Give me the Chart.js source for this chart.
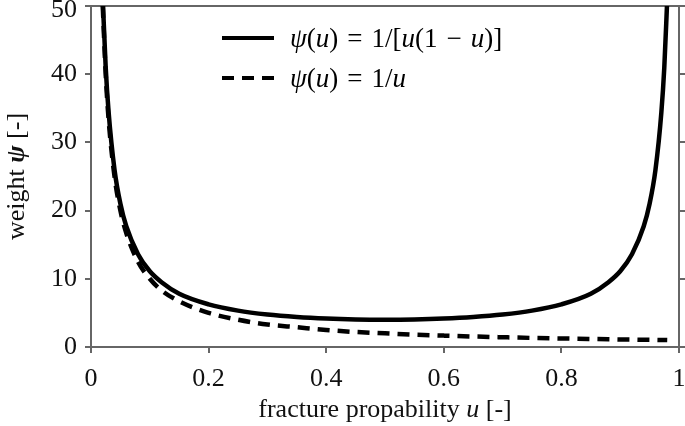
<!DOCTYPE html>
<html lang="en">
<head>
    <meta charset="UTF-8">
    <title>Weight function</title>
    <script src="https://cdn.jsdelivr.net/npm/chart.js"></script>
    <style>
        body {
            margin: 0;
            background: white;
            font-family: "Liberation Serif", serif;
        }
        .wrap {
            position: relative;
            width: 685px;
            height: 426px;
        }
        .legend {
            position: absolute;
            left: 222px;
            top: 18px;
            font-size: 27px;
            color: #000;
            line-height: 40px;
        }
        .legend .row {
            display: flex;
            align-items: center;
        }
        .legend .sample {
            width: 52px;
            height: 0;
            margin-right: 16px;
        }
        .legend .solid { border-top: 4px solid #000; }
        .legend .dash {
            height: 4px;
            background: repeating-linear-gradient(90deg, #000 0 12px, transparent 12px 20px);
        }
        .legend .op { padding: 0 9px; }
    </style>
</head>
<body>
    <div class="wrap">
        <canvas id="chart" width="685" height="426"></canvas>
        <div class="legend">
            <div class="row"><span class="sample solid"></span><span><i>ψ</i>(<i>u</i>)<span class="op">=</span>1/[<i>u</i>(1<span class="op">−</span><i>u</i>)]</span></div>
            <div class="row"><span class="sample dash"></span><span><i>ψ</i>(<i>u</i>)<span class="op">=</span>1/<i>u</i></span></div>
        </div>
    </div>
    <script>
        // values
        const uValues = [0.02, 0.025, 0.03, 0.04, 0.05, 0.06, 0.08, 0.1, 0.12, 0.15, 0.2, 0.25, 0.3, 0.35, 0.4, 0.45, 0.5,
                         0.55, 0.6, 0.65, 0.7, 0.75, 0.8, 0.85, 0.88, 0.9, 0.92, 0.94, 0.95, 0.96, 0.97, 0.975, 0.98];
        const psiBoth = [51, 41, 34.4, 26, 21, 17.7, 13.6, 11.1, 9.5, 7.8, 6.25, 5.33, 4.76, 4.4, 4.17, 4.04, 4.0,
                         4.04, 4.17, 4.4, 4.76, 5.33, 6.25, 7.8, 9.5, 11.1, 13.6, 17.7, 21, 26, 34.4, 41, 51];
        const psiLeft = [50, 40, 33.3, 25, 20, 16.7, 12.5, 10, 8.3, 6.7, 5, 4, 3.3, 2.9, 2.5, 2.2, 2,
                         1.8, 1.67, 1.54, 1.43, 1.33, 1.25, 1.18, 1.14, 1.11, 1.09, 1.06, 1.05, 1.04, 1.03, 1.03, 1.02];
        const xTicks = [0, 0.2, 0.4, 0.6, 0.8, 1];
        const yTicks = [0, 10, 20, 30, 40, 50];

        // axis titles as runs: [text, css font style]
        const xTitle = [['fracture propability ', ''], ['u', 'italic '], [' [-]', '']];
        const yTitle = [['weight ', ''], ['ψ', 'italic bold '], [' [-]', '']];

        const axisColor = '#666';
        const tickFont = { family: 'Liberation Serif', size: 26 };

        function pts(ys) {
            return uValues.map((u, i) => ({ x: u, y: ys[i] }));
        }

        function drawRuns(ctx, runs, cx, cy, angle) {
            ctx.save();
            ctx.translate(cx, cy);
            ctx.rotate(angle);
            ctx.fillStyle = '#111';
            ctx.textBaseline = 'middle';
            let total = 0;
            runs.forEach(r => { ctx.font = r[1] + '26px "Liberation Serif"'; total += ctx.measureText(r[0]).width; });
            let x = -total / 2;
            runs.forEach(r => {
                ctx.font = r[1] + '26px "Liberation Serif"';
                ctx.fillText(r[0], x, 0);
                x += ctx.measureText(r[0]).width;
            });
            ctx.restore();
        }

        const titlePlugin = {
            id: 'titles',
            afterDraw(chart) {
                const a = chart.chartArea;
                drawRuns(chart.ctx, xTitle, (a.left + a.right) / 2, 410, 0);
                drawRuns(chart.ctx, yTitle, 17, (a.top + a.bottom) / 2, -Math.PI / 2);
            }
        };

        const topY = yTicks[yTicks.length - 1];

        new Chart(document.getElementById('chart'), {
            type: 'scatter',
            data: {
                datasets: [{
                    label: 'psi(u) = 1/u',
                    data: pts(psiLeft),
                    showLine: true,
                    borderColor: '#000',
                    borderWidth: 4.5,
                    borderDash: [12, 8],
                    pointRadius: 0,
                    cubicInterpolationMode: 'monotone'
                }, {
                    label: 'psi(u) = 1/[u(1-u)]',
                    data: pts(psiBoth),
                    showLine: true,
                    borderColor: '#000',
                    borderWidth: 4.5,
                    pointRadius: 0,
                    cubicInterpolationMode: 'monotone'
                }]
            },
            plugins: [titlePlugin],
            options: {
                responsive: false,
                animation: false,
                layout: { padding: 0 },
                plugins: { legend: { display: false }, tooltip: { enabled: false } },
                scales: {
                    x: {
                        type: 'linear', min: 0, max: 1,
                        afterBuildTicks: s => { s.ticks = xTicks.map(v => ({ value: v })); },
                        afterFit: s => { s.height = 79; s.paddingLeft = 0; s.paddingRight = 0; },
                        ticks: { font: tickFont, color: '#111', padding: 11, maxRotation: 0,
                                 callback: v => String(v) },
                        grid: { drawOnChartArea: false, tickLength: 6, color: axisColor, lineWidth: 2 },
                        border: { color: axisColor, width: 2 }
                    },
                    x2: {
                        type: 'linear', min: 0, max: 1, position: 'top',
                        afterFit: s => { s.height = 6; s.paddingLeft = 0; s.paddingRight = 0; },
                        ticks: { display: false },
                        grid: { display: true, drawOnChartArea: false, drawTicks: false, color: axisColor },
                        border: { color: axisColor, width: 2 }
                    },
                    y: {
                        type: 'linear', min: 0, max: 50,
                        afterBuildTicks: s => { s.ticks = yTicks.map(v => ({ value: v })); },
                        afterFit: s => { s.width = 91; s.paddingTop = 0; s.paddingBottom = 0; },
                        ticks: {
                            color: '#111', padding: 8,
                            // top label sits a little lower so it stays inside the canvas
                            callback: v => v === topY ? ['', String(v)] : String(v),
                            font: ctx => (ctx.tick && ctx.tick.value === topY)
                                ? { family: 'Liberation Serif', size: 26, lineHeight: 0.3 }
                                : tickFont
                        },
                        grid: { drawOnChartArea: false, tickLength: 6, color: axisColor, lineWidth: 2 },
                        border: { color: axisColor, width: 2 }
                    },
                    y2: {
                        type: 'linear', min: 0, max: 50, position: 'right',
                        afterBuildTicks: s => { s.ticks = yTicks.map(v => ({ value: v })); },
                        afterFit: s => { s.width = 6; s.paddingTop = 0; s.paddingBottom = 0; },
                        ticks: { display: false },
                        grid: { drawOnChartArea: false, tickLength: 6, color: axisColor, lineWidth: 2 },
                        border: { color: axisColor, width: 2 }
                    }
                }
            }
        });
    </script>
</body>
</html>
